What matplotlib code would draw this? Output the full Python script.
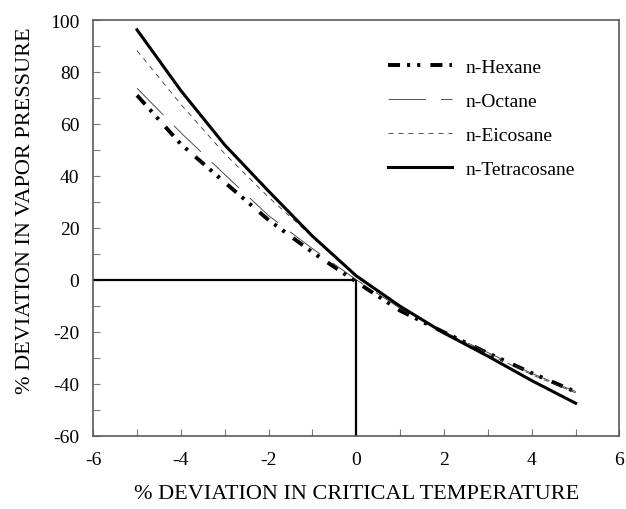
import matplotlib
matplotlib.use("Agg")
import matplotlib.pyplot as plt
from matplotlib.ticker import MultipleLocator

# data
x = [-5, -4, -3, -2, -1, 0, 1, 2, 3, 4, 5]
hexane = [71.0, 52.2, 37.5, 23.0, 10.6, -0.8, -11.9, -20.2, -28.2, -35.9, -43.1]
octane = [73.7, 56.6, 40.5, 24.7, 12.0, 0.0, -11.0, -20.0, -28.0, -36.0, -43.0]
eicosane = [88.2, 67.5, 48.5, 31.8, 16.5, 1.0, -10.5, -20.0, -28.5, -36.5, -43.5]
tetracosane = [96.2, 72.8, 51.9, 34.1, 16.8, 1.5, -10.2, -20.5, -29.4, -38.8, -47.5]
ref_h_x = [-6, 0]
ref_h_y = [0, 0]
ref_v_x = [0, 0]
ref_v_y = [-60, 0]

plt.rcParams['font.family'] = ['Liberation Serif', 'DejaVu Serif']
plt.rcParams['axes.unicode_minus'] = False

fig = plt.figure(figsize=(6.26, 5.10), dpi=100)
W, H = 626, 510
left, right, top, bottom = 93.2, 619.5, 21, 436.7
ax = fig.add_axes([left / W, 1 - bottom / H, (right - left) / W, (bottom - top) / H])

ax.plot(ref_h_x, ref_h_y, color='black', lw=1.6, solid_capstyle='butt')
ax.plot(ref_v_x, ref_v_y, color='black', lw=1.6, solid_capstyle='butt')

ax.plot(x, hexane, color='black', lw=2.8, dashes=(3.1, 1.8, 0.8, 1.8, 0.8, 2.6), label='n-Hexane')
ax.plot(x, octane, color='#333333', lw=0.6, dashes=(45, 18), label='n-Octane')
ax.plot(x, eicosane, color='#333333', lw=0.6, dashes=(6, 6), label='n-Eicosane')
ax.plot(x, tetracosane, color='black', lw=2.2, label='n-Tetracosane')

ax.set_xlim(-6, 6)
ax.set_ylim(-60, 100)
ax.xaxis.set_major_locator(MultipleLocator(2))
ax.xaxis.set_minor_locator(MultipleLocator(1))
ax.yaxis.set_major_locator(MultipleLocator(20))
ax.yaxis.set_minor_locator(MultipleLocator(10))

for s in ax.spines.values():
    s.set_color('#5a5a5a')
    s.set_linewidth(1.2)

ax.tick_params(axis='both', which='both', direction='in', color='#7a7a7a',
               labelsize=14, top=False, right=False)
ax.tick_params(axis='both', which='major', length=5, width=0.8)
ax.tick_params(axis='both', which='minor', length=5, width=0.8)
ax.tick_params(axis='x', which='major', pad=11)
ax.tick_params(axis='y', which='major', pad=10)

ax.set_xlabel('% DEVIATION IN CRITICAL TEMPERATURE', fontsize=16, va='center', ha='center')
ax.xaxis.set_label_coords(0.5, (bottom - 495) / (bottom - top))
ax.set_ylabel('% DEVIATION IN VAPOR PRESSURE', fontsize=16, va='center', ha='center')
ax.yaxis.set_label_coords((25 - left) / (right - left), (bottom - 211) / (bottom - top))

leg = ax.legend(loc='upper left', bbox_to_anchor=(0.560, 0.907), frameon=False,
                fontsize=14, handlelength=3.3, handletextpad=0.67,
                labelspacing=0.83, borderpad=0, borderaxespad=0)

fig.savefig('out.png', dpi=100)
